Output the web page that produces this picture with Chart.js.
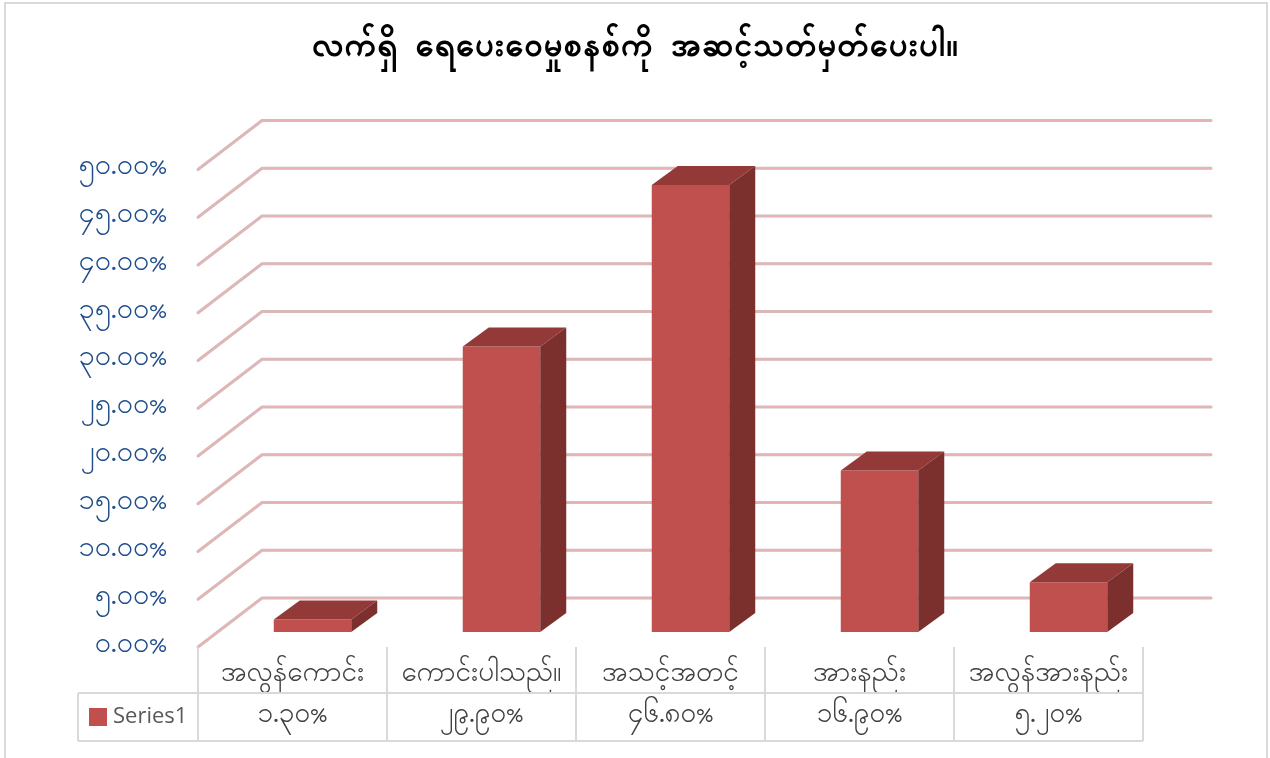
<!DOCTYPE html>
<html>
<head>
<meta charset="utf-8">
<script src="https://cdn.jsdelivr.net/npm/chart.js@4.4.1/dist/chart.umd.min.js"></script>
<style>
  html, body { margin: 0; padding: 0; background: #fff; }
  #wrap { width: 1270px; height: 758px; }
</style>
</head>
<body>
<div id="wrap"><canvas id="chart" width="1270" height="758"></canvas></div>
<script>
const chartTitle = 'လက်ရှိ ရေပေးဝေမှုစနစ်ကို အဆင့်သတ်မှတ်ပေးပါ။'
const categories = ['အလွန်ကောင်း', 'ကောင်းပါသည်။', 'အသင့်အတင့်', 'အားနည်း', 'အလွန်အားနည်း']
const seriesName = 'Series1'
const series1 = [1.3, 29.9, 46.8, 16.9, 5.2]
const yMin = 0
const yMax = 50
const yStep = 5

const MM_FONT = "'Myanmar Text', Padauk, 'Noto Sans Myanmar', 'Noto Sans', sans-serif"

// 0-9 -> Myanmar digits
const mm = s => String(s).replace(/\d/g, d => String.fromCharCode(0x1040 + Number(d)))
const pct = v => mm(v.toFixed(2)) + '%'

// depth offsets of the 3D box: wall = back wall, front = axis/table plane, bar = bar depth
const WALL = { dx: 44, dy: -34 }
const FRONT = { dx: -20, dy: 15 }
const BAR = { dx: 26, dy: -19 }

const colors = {
    front: '#c0504d',
    top: '#933a38',
    side: '#7c302e',
    grid: '#e6b4b4',
    gridShade: '#cdbdbd',
    axis: '#1f4e8a',
    text: '#404040',
    table: '#d9d9d9'
}

const box3d = {
    id: 'box3d',
    beforeDraw(chart) {
        const { ctx, width, height } = chart
        ctx.save()
        ctx.fillStyle = '#fff'
        ctx.fillRect(0, 0, width, height)
        ctx.strokeStyle = colors.table
        ctx.lineWidth = 2
        ctx.strokeRect(5, 3, width - 8, height + 10)

        // title, centred on the whole canvas
        ctx.fillStyle = '#000'
        ctx.font = 'bold 34px ' + MM_FONT
        ctx.textAlign = 'center'
        ctx.textBaseline = 'middle'
        ctx.fillText(chartTitle, width / 2, 50)
        ctx.restore()
    },
    beforeDatasetsDraw(chart) {
        const { ctx, chartArea, scales: { y } } = chart
        const left = chartArea.left + FRONT.dx
        const backLeft = chartArea.left + WALL.dx
        const backRight = chartArea.right + WALL.dx + 4
        ctx.save()
        ctx.lineCap = 'round'
        for (let v = yMin; v <= yMax; v += yStep) {
            const py = y.getPixelForValue(v)
            const fy = py + FRONT.dy
            const by = py + WALL.dy
            ;[[colors.gridShade, 3], [colors.grid, 2]].forEach(([c, w]) => {
                ctx.strokeStyle = c
                ctx.lineWidth = w
                ctx.beginPath()
                ctx.moveTo(left, fy)
                ctx.lineTo(backLeft, by)
                ctx.lineTo(backRight, by)
                ctx.stroke()
            })
        }
        ctx.restore()
    },
    afterDatasetsDraw(chart) {
        const { ctx } = chart
        const meta = chart.getDatasetMeta(0)
        ctx.save()
        meta.data.forEach(bar => {
            const { x, y, base, width } = bar.getProps(['x', 'y', 'base', 'width'], true)
            const l = x - width / 2
            const r = x + width / 2
            ctx.fillStyle = colors.top
            ctx.beginPath()
            ctx.moveTo(l, y)
            ctx.lineTo(l + BAR.dx, y + BAR.dy)
            ctx.lineTo(r + BAR.dx, y + BAR.dy)
            ctx.lineTo(r, y)
            ctx.closePath()
            ctx.fill()
            ctx.fillStyle = colors.side
            ctx.beginPath()
            ctx.moveTo(r, y)
            ctx.lineTo(r + BAR.dx, y + BAR.dy)
            ctx.lineTo(r + BAR.dx, base + BAR.dy)
            ctx.lineTo(r, base)
            ctx.closePath()
            ctx.fill()
        })
        ctx.restore()
    },
    afterDraw(chart) {
        const { ctx, chartArea, scales: { x } } = chart
        const half = (x.getPixelForValue(1) - x.getPixelForValue(0)) / 2
        const cols = categories.map((c, i) => x.getPixelForValue(i) + FRONT.dx)
        const top = chartArea.bottom + FRONT.dy
        const mid = 693
        const bottom = 741
        const keyLeft = 78
        const last = cols[cols.length - 1] + half

        ctx.save()
        ctx.strokeStyle = colors.table
        ctx.lineWidth = 2
        ctx.beginPath()
        cols.forEach(cx => {
            ctx.moveTo(cx - half, top)
            ctx.lineTo(cx - half, bottom)
        })
        ctx.moveTo(last, top)
        ctx.lineTo(last, bottom)
        ctx.moveTo(keyLeft, mid)
        ctx.lineTo(last, mid)
        ctx.moveTo(keyLeft, mid)
        ctx.lineTo(keyLeft, bottom)
        ctx.moveTo(keyLeft, bottom)
        ctx.lineTo(last, bottom)
        ctx.stroke()

        // value row
        ctx.fillStyle = colors.text
        ctx.font = '28px ' + MM_FONT
        ctx.textAlign = 'center'
        ctx.textBaseline = 'middle'
        series1.forEach((v, i) => ctx.fillText(pct(v), cols[i], (mid + bottom) / 2))

        // legend key
        ctx.fillStyle = colors.front
        ctx.fillRect(89, 708, 18, 18)
        ctx.fillStyle = '#595959'
        ctx.font = "22px 'Open Sans', sans-serif"
        ctx.textAlign = 'left'
        ctx.fillText(seriesName, 113, (mid + bottom) / 2)
        ctx.restore()
    }
}

new Chart('chart', {
    type: 'bar',
    data: {
        labels: categories,
        datasets: [
            {
                label: seriesName,
                data: series1,
                backgroundColor: colors.front,
                borderWidth: 0,
                categoryPercentage: 1,
                barPercentage: 0.41
            }
        ]
    },
    options: {
        responsive: false,
        animation: false,
        layout: { padding: { left: 0, right: 107, top: 154.5, bottom: 0 } },
        plugins: {
            legend: { display: false },
            tooltip: { enabled: false },
            title: { display: false }
        },
        scales: {
            x: {
                grid: { display: false, drawTicks: false },
                border: { display: false },
                ticks: {
                    color: colors.text,
                    font: { family: MM_FONT, size: 28 },
                    padding: 27,
                    labelOffset: FRONT.dx,
                    maxRotation: 0,
                    autoSkip: false
                },
                afterFit: s => { s.height = 126 }
            },
            y: {
                min: yMin,
                max: yMax,
                grid: { display: false, drawTicks: false },
                border: { display: false },
                ticks: {
                    stepSize: yStep,
                    color: colors.axis,
                    font: { family: MM_FONT, size: 29 },
                    padding: 51,
                    labelOffset: FRONT.dy,
                    callback: v => pct(v)
                },
                afterFit: s => { s.width = 218 }
            }
        }
    },
    plugins: [box3d]
})
</script>
</body>
</html>
